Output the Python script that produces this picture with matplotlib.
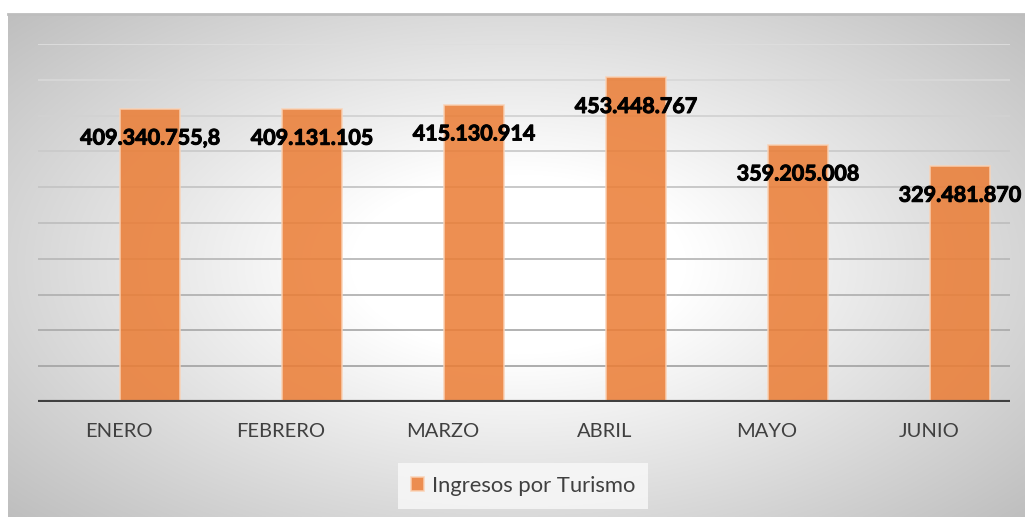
import numpy as np
import matplotlib
matplotlib.use('Agg')
import matplotlib.pyplot as plt
import matplotlib.patheffects as pe
from matplotlib.colors import to_rgb

plt.rcParams['font.family'] = ['Lato', 'DejaVu Sans']

# datos
meses = ['ENERO', 'FEBRERO', 'MARZO', 'ABRIL', 'MAYO', 'JUNIO']
ingresos = [409340755.8, 409131105, 415130914, 453448767, 359205008, 329481870]
serie = 'Ingresos por Turismo'


def formato(v):
    # separador de miles '.' y decimal ','
    if float(v).is_integer():
        s = '{:,.0f}'.format(v)
    else:
        s = '{:,.1f}'.format(v)
    return s.replace(',', '#').replace('.', ',').replace('#', '.')


W, H = 1025, 517
fig = plt.figure(figsize=(W / 100, H / 100), dpi=100)

# fondo con degradado radial
bg = fig.add_axes([8 / W, 0, (W - 8) / W, (H - 14) / H], zorder=0)
yy, xx = np.mgrid[0:503, 0:1017]
r = np.sqrt(((xx - 510) / 560.0) ** 2 + ((yy - 250) / 300.0) ** 2)
g = 1 - 0.27 * np.clip((r - 0.3) / 1.0, 0, 1)
bg.imshow(np.dstack([g, g, g]), aspect='auto', interpolation='bilinear')
bg.set_xticks([])
bg.set_yticks([])
for s in ['left', 'right', 'bottom']:
    bg.spines[s].set_visible(False)
bg.spines['top'].set_color('#bdbdbd')
bg.spines['top'].set_linewidth(2)

ax = fig.add_axes([38 / W, (H - 402) / H, (1010 - 38) / W, 358 / H], zorder=1)
ax.patch.set_alpha(0)
x = np.arange(len(meses))
desp = 0.19  # las barras van corridas a la derecha de la categoria

# lineas de division
ticks = np.arange(50e6, 500e6 + 1, 50e6)
c_top, c_bot = np.array(to_rgb('#dedede')), np.array(to_rgb('#a6a6a6'))
for i, t in enumerate(ticks):
    f = i / (len(ticks) - 1)
    ax.axhline(t, color=c_bot * (1 - f) + c_top * f, lw=1.3, zorder=1)

bars = ax.bar(x + desp, ingresos, width=0.37, color='#EB7D35', alpha=0.86,
              edgecolor='#FAD2B5', linewidth=1.2, zorder=2, label=serie)

for xi, v in zip(x + desp, ingresos):
    ax.annotate(formato(v), (xi, v), xytext=(0, -21), textcoords='offset points',
                ha='center', va='center', fontsize=15.5, fontweight='bold',
                color='black', zorder=4,
                path_effects=[pe.withStroke(linewidth=0.7, foreground='black')])

ax.axhline(0, color='#404040', lw=3, zorder=3)
ax.set_xlim(-0.5, 5.5)
ax.set_ylim(0, 500e6)
ax.set_yticks([])
ax.set_xticks(x)
ax.set_xticklabels(meses, fontsize=14.5, color='#404040')
ax.tick_params(axis='x', length=0, pad=15)
for s in ax.spines.values():
    s.set_visible(False)

leg = fig.legend(handles=[bars], labels=[serie], loc='center',
                 bbox_to_anchor=(523 / W, 1 - 486 / H), fontsize=15.8,
                 frameon=True, fancybox=False, handlelength=0.6, handleheight=0.6,
                 handletextpad=0.35, borderpad=0.6, borderaxespad=0)
leg.get_frame().set_facecolor('#f9f9f9')
leg.get_frame().set_edgecolor('none')
for t in leg.get_texts():
    t.set_color('#404040')

fig.savefig('out.png', dpi=100)
